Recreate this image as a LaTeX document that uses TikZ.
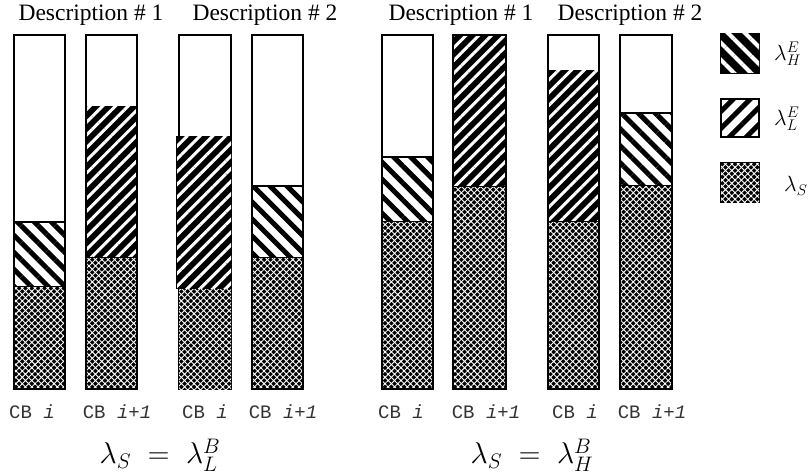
\RequirePackage{fix-cm}
\documentclass[tikz,border=0pt]{standalone}
\usepackage{fontspec}
\setmainfont{Liberation Serif}
\newfontfamily\cbfont{Liberation Mono}
\usetikzlibrary{patterns.meta}
\tikzset{
  seg/.style={draw=black, line width=1.6pt},
  barline/.style={draw=black, line width=1.8pt},
  crossfill/.style={seg, fill=black, postaction={pattern={Hatch[angle=45,distance=4.5pt,line width=0.9pt]}, pattern color=white}},
  blackstripes/.style={seg, fill=black, postaction={pattern={Lines[angle=45,distance=9pt,line width=3pt]}, pattern color=white}},
  whitestripes/.style={seg, fill=white, postaction={pattern={Lines[angle=-45,distance=12pt,line width=5pt]}, pattern color=black}},
  legH/.style={seg, fill=black, postaction={pattern={Lines[angle=-45,distance=12pt,line width=4pt]}, pattern color=white}},
  legL/.style={seg, fill=white, postaction={pattern={Lines[angle=45,distance=12pt,line width=5pt]}, pattern color=black}},
  title/.style={font=\fontsize{23.5}{27}\selectfont, inner sep=0pt},
  cblabel/.style={font=\cbfont\fontsize{19}{22}\selectfont, inner sep=0pt, text=black!80},
  eqlabel/.style={font=\fontsize{30}{34}\selectfont, inner sep=0pt},
  leglabel/.style={font=\fontsize{22}{25}\selectfont, inner sep=0pt, anchor=west},
}
\begin{document}
\begin{tikzpicture}[x=1pt,y=-1pt]
\useasboundingbox (0,0) rectangle (811,476);
% titles
\node[title] (t1) at (91,15) {Description \# 1};
\node[title] (t2) at (265,15) {Description \# 2};
\node[title] (t3) at (461,15) {Description \# 1};
\node[title] (t4) at (630,15) {Description \# 2};
% bar 1
\path[whitestripes] (14,222) rectangle (65,287);
\path[crossfill] (14,287) rectangle (65,389);
\draw[barline] (14,35) rectangle (65,389);
% bar 2
\path[blackstripes] (86,107) rectangle (137,258);
\path[crossfill] (86,258) rectangle (137,389);
\draw[barline] (86,35) rectangle (137,389);
% bar 3
\draw[barline] (179,35) rectangle (231,389);
\path[crossfill] (179,288) rectangle (231,389);
\path[blackstripes] (177,137) rectangle (231,288);
% bar 4
\path[whitestripes] (252,186) rectangle (303,258);
\path[crossfill] (252,258) rectangle (303,389);
\draw[barline] (252,35) rectangle (303,389);
% bar 5
\path[whitestripes] (382,157) rectangle (433,222);
\path[crossfill] (382,222) rectangle (433,389);
\draw[barline] (382,35) rectangle (433,389);
% bar 6
\path[blackstripes] (453,35) rectangle (506,187);
\path[crossfill] (453,187) rectangle (506,389);
\draw[barline] (453,35) rectangle (506,389);
% bar 7
\path[blackstripes] (548,71) rectangle (599,222);
\path[crossfill] (548,222) rectangle (599,389);
\draw[barline] (548,35) rectangle (599,389);
% bar 8
\path[whitestripes] (620,113) rectangle (672,186);
\path[crossfill] (620,186) rectangle (672,389);
\draw[barline] (620,35) rectangle (672,389);
% bar labels
\node[cblabel] (c1) at (32,412) {CB \textit{i}};
\node[cblabel] (c2) at (117,412) {CB \textit{i+1}};
\node[cblabel] (c3) at (205,412) {CB \textit{i}};
\node[cblabel] (c4) at (283,412) {CB \textit{i+1}};
\node[cblabel] (c5) at (401,412) {CB \textit{i}};
\node[cblabel] (c6) at (486,412) {CB \textit{i+1}};
\node[cblabel] (c7) at (575,412) {CB \textit{i}};
\node[cblabel] (c8) at (652,412) {CB \textit{i+1}};
% equations
\node[eqlabel] (e1) at (160,455) {$\lambda_S \;=\; \lambda_L^B$};
\node[eqlabel] (e2) at (532,455) {$\lambda_S \;=\; \lambda_H^B$};
% legend
\path[legH] (721,34) rectangle (759,73);
\path[legL] (721,99) rectangle (759,137);
\path[crossfill] (721,163) rectangle (759,202);
\node[leglabel] (l1) at (774,54) {$\lambda_H^E$};
\node[leglabel] (l2) at (774,119) {$\lambda_L^E$};
\node[leglabel] (l3) at (784,186) {$\lambda_S$};
\end{tikzpicture}
\end{document}
